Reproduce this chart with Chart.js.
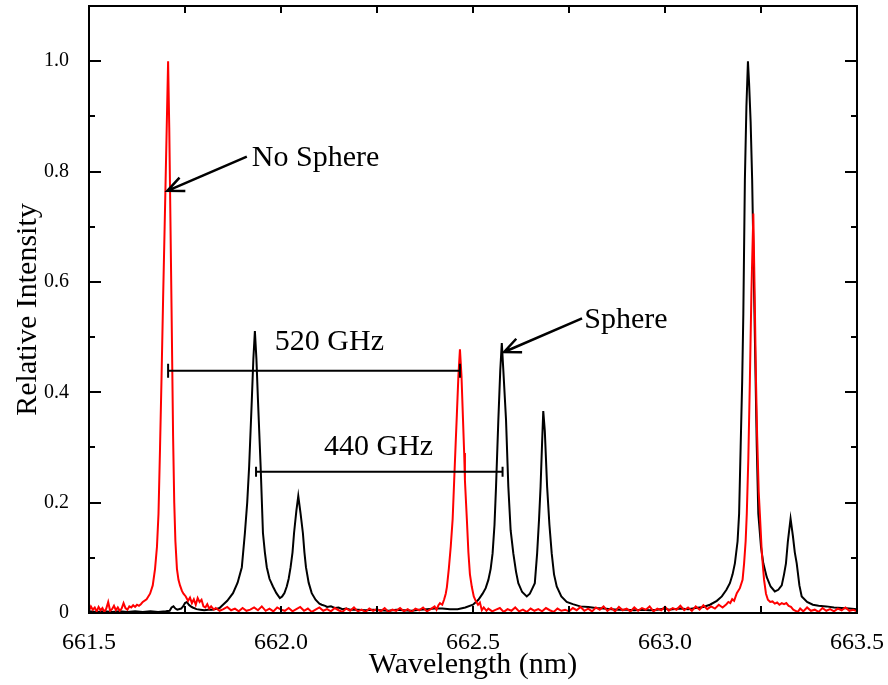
<!DOCTYPE html>
<html>
<head>
<meta charset="utf-8">
<script src="https://cdn.jsdelivr.net/npm/chart.js@4.4.1/dist/chart.umd.min.js"></script>
<style>
  html, body { margin: 0; padding: 0; background: #fff; }
  #wrap { width: 888px; height: 685px; position: relative; }
</style>
</head>
<body>
<div id="wrap"><canvas id="spectrumChart"></canvas></div>
<script>
// wavelength (nm), relative intensity
const noSpherePoints = [
  [661.500,0.004],[661.505,0.012],[661.510,0.006],[661.515,0.010],[661.520,0.003],[661.525,0.011],
  [661.530,0.005],[661.535,0.009],[661.540,0.002],[661.545,0.008],[661.550,0.020],[661.555,0.004],
  [661.560,0.007],[661.565,0.013],[661.570,0.005],[661.575,0.010],[661.580,0.004],[661.585,0.008],
  [661.590,0.018],[661.595,0.009],[661.600,0.006],[661.605,0.012],[661.610,0.010],[661.615,0.014],
  [661.620,0.011],[661.625,0.015],[661.630,0.013],[661.635,0.016],[661.640,0.020],[661.650,0.025],
  [661.659,0.035],[661.666,0.050],[661.672,0.080],[661.677,0.120],[661.681,0.180],[661.685,0.300],
  [661.689,0.430],[661.693,0.570],[661.697,0.700],[661.700,0.800],[661.703,0.900],[661.706,1.000],
  [661.709,0.880],[661.711,0.770],[661.715,0.550],[661.719,0.320],[661.722,0.200],[661.725,0.130],
  [661.729,0.080],[661.733,0.060],[661.737,0.050],[661.742,0.040],[661.746,0.035],[661.752,0.030],
  [661.758,0.022],[661.763,0.028],[661.768,0.018],[661.773,0.025],[661.778,0.015],[661.783,0.027],
  [661.788,0.020],[661.793,0.024],[661.798,0.012],[661.803,0.010],[661.808,0.016],[661.813,0.008],
  [661.818,0.012],[661.825,0.006],[661.830,0.009],[661.840,0.004],[661.850,0.007],[661.860,0.011],
  [661.870,0.005],[661.880,0.008],[661.890,0.003],[661.900,0.009],[661.910,0.004],[661.920,0.006],
  [661.930,0.010],[661.940,0.005],[661.950,0.012],[661.960,0.004],[661.970,0.008],[661.980,0.003],
  [661.990,0.010],[662.000,0.006],[662.010,0.004],[662.020,0.009],[662.030,0.003],[662.040,0.007],
  [662.050,0.011],[662.060,0.004],[662.070,0.008],[662.080,0.002],[662.090,0.006],[662.100,0.010],
  [662.110,0.004],[662.120,0.007],[662.130,0.003],[662.140,0.009],[662.150,0.005],[662.160,0.002],
  [662.170,0.008],[662.180,0.004],[662.190,0.010],[662.200,0.003],[662.210,0.006],[662.220,0.002],
  [662.230,0.008],[662.240,0.004],[662.250,0.007],[662.260,0.003],[662.270,0.009],[662.280,0.002],
  [662.290,0.006],[662.300,0.004],[662.310,0.009],[662.320,0.003],[662.330,0.007],[662.340,0.002],
  [662.350,0.008],[662.360,0.005],[662.370,0.010],[662.380,0.003],[662.390,0.007],[662.400,0.012],
  [662.405,0.006],[662.410,0.014],[662.414,0.018],[662.420,0.015],[662.425,0.025],[662.429,0.035],
  [662.432,0.047],[662.437,0.080],[662.442,0.120],[662.447,0.170],[662.451,0.240],[662.455,0.310],
  [662.458,0.360],[662.462,0.430],[662.466,0.478],[662.470,0.430],[662.474,0.350],[662.477,0.290],
  [662.479,0.240],[662.484,0.170],[662.488,0.110],[662.492,0.070],[662.497,0.047],[662.502,0.030],
  [662.507,0.022],[662.513,0.015],[662.518,0.019],[662.523,0.005],[662.528,0.010],[662.535,0.004],
  [662.540,0.008],[662.550,0.003],[662.560,0.006],[662.570,0.009],[662.580,0.002],[662.590,0.007],
  [662.600,0.004],[662.610,0.010],[662.620,0.003],[662.630,0.006],[662.640,0.002],[662.650,0.008],
  [662.660,0.004],[662.670,0.007],[662.680,0.003],[662.690,0.009],[662.700,0.005],[662.710,0.002],
  [662.720,0.008],[662.730,0.004],[662.740,0.006],[662.750,0.003],[662.760,0.009],[662.770,0.005],
  [662.780,0.011],[662.790,0.004],[662.800,0.008],[662.810,0.003],[662.820,0.010],[662.830,0.006],
  [662.840,0.012],[662.850,0.004],[662.860,0.009],[662.870,0.003],[662.880,0.011],[662.890,0.005],
  [662.900,0.008],[662.910,0.003],[662.920,0.010],[662.930,0.004],[662.940,0.009],[662.950,0.006],
  [662.960,0.012],[662.970,0.003],[662.980,0.008],[662.990,0.005],[663.000,0.011],[663.010,0.004],
  [663.020,0.009],[663.030,0.006],[663.040,0.013],[663.050,0.005],[663.060,0.010],[663.070,0.004],
  [663.080,0.012],[663.090,0.006],[663.100,0.014],[663.110,0.007],[663.120,0.012],[663.130,0.008],
  [663.140,0.015],[663.150,0.010],[663.160,0.016],[663.165,0.020],[663.170,0.018],[663.175,0.025],
  [663.180,0.022],[663.187,0.036],[663.195,0.045],[663.202,0.060],[663.206,0.090],[663.210,0.130],
  [663.213,0.180],[663.217,0.280],[663.221,0.420],[663.225,0.580],[663.230,0.724],[663.233,0.600],
  [663.237,0.420],[663.240,0.320],[663.244,0.220],[663.247,0.180],[663.252,0.110],[663.258,0.060],
  [663.263,0.035],[663.268,0.024],[663.274,0.020],[663.280,0.021],[663.286,0.017],[663.292,0.019],
  [663.298,0.015],[663.304,0.018],[663.310,0.016],[663.316,0.018],[663.322,0.013],[663.328,0.011],
  [663.334,0.006],[663.340,0.004],[663.346,0.002],[663.352,0.008],[663.360,0.003],[663.370,0.010],
  [663.380,0.004],[663.390,0.006],[663.400,0.002],[663.410,0.009],[663.420,0.004],[663.430,0.007],
  [663.440,0.003],[663.450,0.008],[663.460,0.005],[663.470,0.010],[663.480,0.004],[663.490,0.006],
  [663.500,0.003]
];

const spherePoints = [
  [661.500,0.003],[661.520,0.002],[661.540,0.003],[661.560,0.002],[661.580,0.003],[661.600,0.002],
  [661.620,0.003],[661.640,0.002],[661.660,0.003],[661.680,0.002],[661.700,0.003],[661.710,0.004],
  [661.715,0.010],[661.720,0.012],[661.725,0.008],[661.730,0.006],[661.740,0.008],[661.745,0.012],
  [661.750,0.018],[661.755,0.020],[661.760,0.015],[661.765,0.012],[661.770,0.010],[661.780,0.007],
  [661.790,0.006],[661.800,0.005],[661.810,0.006],[661.820,0.006],[661.830,0.007],[661.840,0.009],
  [661.849,0.015],[661.860,0.022],[661.875,0.036],[661.887,0.055],[661.898,0.083],[661.906,0.145],
  [661.912,0.200],[661.917,0.265],[661.924,0.386],[661.928,0.460],[661.932,0.511],[661.936,0.460],
  [661.940,0.386],[661.947,0.265],[661.953,0.145],[661.958,0.110],[661.963,0.083],[661.970,0.062],
  [661.979,0.048],[661.988,0.036],[661.997,0.027],[662.003,0.030],[662.009,0.036],[662.015,0.048],
  [662.020,0.062],[662.025,0.083],[662.030,0.110],[662.034,0.145],[662.040,0.185],[662.045,0.212],
  [662.051,0.180],[662.057,0.145],[662.061,0.110],[662.065,0.083],[662.072,0.055],[662.080,0.036],
  [662.090,0.024],[662.100,0.017],[662.106,0.015],[662.115,0.013],[662.120,0.011],[662.130,0.012],
  [662.140,0.009],[662.150,0.010],[662.160,0.007],[662.170,0.008],[662.180,0.006],[662.200,0.006],
  [662.220,0.005],[662.240,0.006],[662.260,0.005],[662.280,0.004],[662.300,0.006],[662.320,0.005],
  [662.340,0.004],[662.360,0.006],[662.380,0.007],[662.400,0.008],[662.420,0.008],[662.440,0.007],
  [662.460,0.007],[662.480,0.010],[662.500,0.015],[662.514,0.024],[662.525,0.035],[662.533,0.045],
  [662.540,0.060],[662.546,0.080],[662.551,0.108],[662.556,0.160],[662.560,0.229],[662.566,0.350],
  [662.571,0.440],[662.575,0.489],[662.579,0.440],[662.586,0.350],[662.592,0.229],[662.598,0.150],
  [662.605,0.108],[662.612,0.075],[662.618,0.054],[662.628,0.038],[662.640,0.030],[662.648,0.035],
  [662.655,0.045],[662.661,0.054],[662.667,0.108],[662.672,0.170],[662.676,0.229],[662.680,0.310],
  [662.683,0.366],[662.687,0.330],[662.693,0.229],[662.699,0.160],[662.705,0.108],[662.711,0.070],
  [662.718,0.048],[662.730,0.030],[662.744,0.020],[662.760,0.016],[662.779,0.012],[662.800,0.011],
  [662.820,0.009],[662.840,0.008],[662.860,0.007],[662.880,0.006],[662.900,0.006],[662.920,0.005],
  [662.940,0.006],[662.960,0.005],[662.980,0.006],[663.000,0.008],[663.010,0.006],[663.020,0.007],
  [663.040,0.008],[663.060,0.007],[663.080,0.009],[663.100,0.011],[663.117,0.015],[663.135,0.022],
  [663.148,0.030],[663.160,0.042],[663.169,0.054],[663.176,0.070],[663.182,0.090],[663.189,0.130],
  [663.193,0.180],[663.197,0.301],[663.201,0.420],[663.204,0.543],[663.208,0.784],[663.212,0.917],
  [663.216,1.000],[663.219,0.960],[663.223,0.890],[663.227,0.784],[663.233,0.543],[663.239,0.301],
  [663.243,0.180],[663.250,0.120],[663.256,0.090],[663.265,0.065],[663.275,0.048],[663.286,0.039],
  [663.295,0.042],[663.304,0.050],[663.310,0.070],[663.315,0.090],[663.320,0.130],[663.327,0.171],
  [663.333,0.140],[663.338,0.110],[663.343,0.090],[663.350,0.050],[663.356,0.030],[663.370,0.020],
  [663.385,0.015],[663.400,0.013],[663.420,0.012],[663.440,0.010],[663.460,0.009],[663.480,0.008],
  [663.500,0.007]
];

const xTickLabels = ['661.5', '662.0', '662.5', '663.0', '663.5'];
const yTickLabels = ['0', '0.2', '0.4', '0.6', '0.8', '1.0'];

// annotations in data units
const arrowNotes = [
  { from: [661.911, 0.827], to: [661.704, 0.765] },
  { from: [662.784, 0.534], to: [662.581, 0.473] }
];
const spanBars = [
  { x1: 661.706, x2: 662.466, y: 0.439, cap: 7 },
  { x1: 661.935, x2: 662.577, y: 0.256, cap: 5 }
];
const textNotes = [
  { text: 'No Sphere', x: 661.924, y: 0.810 },
  { text: 'Sphere', x: 662.790, y: 0.516 },
  { text: '520 GHz', x: 661.984, y: 0.476 },
  { text: '440 GHz', x: 662.112, y: 0.286 }
];

const serif = '"Liberation Serif", "Times New Roman", serif';

const toXY = pts => pts.map(p => ({ x: p[0], y: p[1] }));

const framePlugin = {
  id: 'frame',
  afterDatasetsDraw(chart) {
    const { ctx, chartArea: a, scales } = chart;
    const xs = scales.x, ys = scales.y;
    ctx.save();
    ctx.strokeStyle = '#000';
    ctx.lineWidth = 2;
    ctx.strokeRect(a.left, a.top, a.right - a.left, a.bottom - a.top);
    ctx.beginPath();
    // x ticks (every 0.25), inward on bottom and top
    for (let v = xs.min; v <= xs.max + 1e-9; v += 0.25) {
      const px = Math.round(xs.getPixelForValue(v));
      ctx.moveTo(px, a.bottom); ctx.lineTo(px, a.bottom - 7);
      ctx.moveTo(px, a.top); ctx.lineTo(px, a.top + 7);
    }
    // y ticks, major 0.2 / minor 0.1
    for (let i = 0; i <= 11; i++) {
      const v = i / 10;
      const py = Math.round(ys.getPixelForValue(v));
      const len = i % 2 === 0 ? 12 : 6;
      ctx.moveTo(a.left, py); ctx.lineTo(a.left + len, py);
      ctx.moveTo(a.right, py); ctx.lineTo(a.right - len, py);
    }
    ctx.stroke();

    // annotation bars
    spanBars.forEach(b => {
      const x1 = xs.getPixelForValue(b.x1), x2 = xs.getPixelForValue(b.x2);
      const y = ys.getPixelForValue(b.y);
      ctx.beginPath();
      ctx.moveTo(x1, y); ctx.lineTo(x2, y);
      ctx.moveTo(x1, y - b.cap); ctx.lineTo(x1, y + b.cap);
      ctx.moveTo(x2, y - b.cap); ctx.lineTo(x2, y + b.cap);
      ctx.stroke();
    });

    // arrows
    ctx.lineWidth = 2.5;
    arrowNotes.forEach(ar => {
      const fx = xs.getPixelForValue(ar.from[0]), fy = ys.getPixelForValue(ar.from[1]);
      const tx = xs.getPixelForValue(ar.to[0]), ty = ys.getPixelForValue(ar.to[1]);
      const ang = Math.atan2(ty - fy, tx - fx);
      const hl = 18, spread = 0.42;
      ctx.beginPath();
      ctx.moveTo(fx, fy); ctx.lineTo(tx, ty);
      ctx.moveTo(tx - hl * Math.cos(ang - spread), ty - hl * Math.sin(ang - spread));
      ctx.lineTo(tx, ty);
      ctx.lineTo(tx - hl * Math.cos(ang + spread), ty - hl * Math.sin(ang + spread));
      ctx.stroke();
    });

    // labels
    ctx.fillStyle = '#000';
    ctx.font = '30px ' + serif;
    ctx.textAlign = 'left';
    ctx.textBaseline = 'alphabetic';
    textNotes.forEach(t => {
      ctx.fillText(t.text, xs.getPixelForValue(t.x), ys.getPixelForValue(t.y));
    });
    ctx.restore();
  }
};

const ctx = document.getElementById('spectrumChart').getContext('2d');
const spectrumChart = new Chart(ctx, {
  type: 'line',
  data: {
    datasets: [{
      label: 'No Sphere',
      data: toXY(noSpherePoints),
      borderColor: '#ff0000',
      borderWidth: 2,
      pointRadius: 0,
      tension: 0,
      fill: false
    }, {
      label: 'Sphere',
      data: toXY(spherePoints),
      borderColor: '#000000',
      borderWidth: 2,
      pointRadius: 0,
      tension: 0,
      fill: false
    }]
  },
  options: {
    responsive: true,
    maintainAspectRatio: false,
    animation: false,
    layout: { padding: { left: 0, right: 31, top: 6, bottom: 0 } },
    plugins: {
      legend: { display: false },
      tooltip: { enabled: false }
    },
    scales: {
      x: {
        type: 'linear',
        min: 661.5,
        max: 663.5,
        grid: { display: false, drawTicks: false },
        border: { display: false },
        afterFit: s => { s.paddingLeft = 0; s.paddingRight = 0; s.height = 72; },
        ticks: {
          stepSize: 0.5,
          autoSkip: false,
          maxRotation: 0,
          padding: 18,
          color: '#000',
          font: { family: serif, size: 24, lineHeight: 1 },
          callback: (v, i) => xTickLabels[i]
        },
        title: {
          display: true,
          text: 'Wavelength (nm)',
          color: '#000',
          font: { family: serif, size: 30, lineHeight: 1 },
          padding: { top: 0, bottom: 5 }
        }
      },
      y: {
        min: 0,
        max: 1.1,
        grid: { display: false, drawTicks: false },
        border: { display: false },
        afterFit: s => { s.paddingTop = 0; s.paddingBottom = 0; s.width = 89; },
        ticks: {
          stepSize: 0.2,
          includeBounds: false,
          padding: 20,
          color: '#000',
          font: { family: serif, size: 20 },
          callback: (v, i) => yTickLabels[i]
        },
        title: {
          display: true,
          text: 'Relative Intensity',
          color: '#000',
          font: { family: serif, size: 30, lineHeight: 1 },
          padding: { top: 13, bottom: 0 }
        }
      }
    }
  },
  plugins: [framePlugin]
});
</script>
</body>
</html>
